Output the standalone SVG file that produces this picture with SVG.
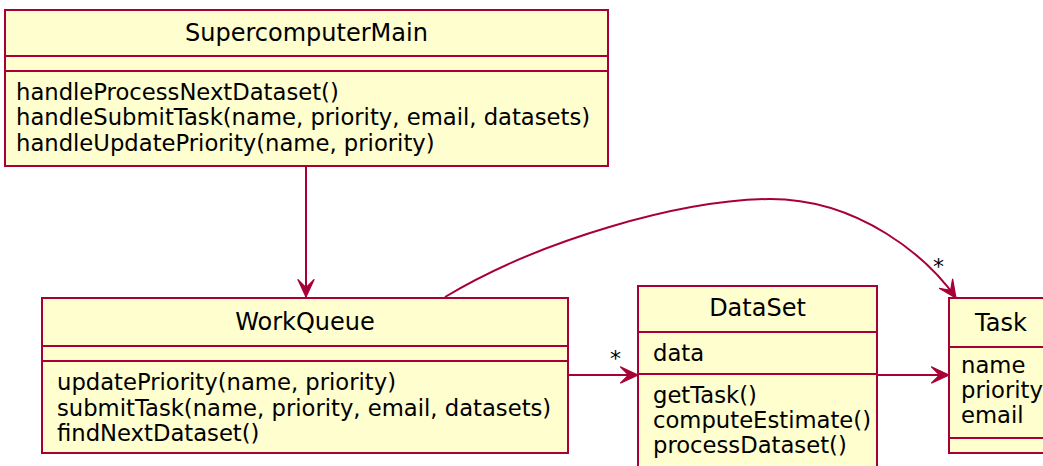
<svg xmlns="http://www.w3.org/2000/svg" width="1043" height="466" viewBox="0 0 1043 466">
<defs>
<style>
.box{fill:#FEFECE;stroke:#A80036;stroke-width:2}
.sep{stroke:#A80036;stroke-width:2}
.edge{fill:none;stroke:#A80036;stroke-width:2}
.title{font-family:"DejaVu Sans",sans-serif;font-size:24px;fill:#000;text-anchor:middle}
.mem{font-family:"DejaVu Sans",sans-serif;font-size:22.7px;fill:#000}
.mult{font-family:"DejaVu Sans",sans-serif;font-size:22px;fill:#000}
</style>
<marker id="arr" markerUnits="userSpaceOnUse" markerWidth="20" markerHeight="20" viewBox="-16 -8 17 16" refX="0" refY="0" orient="auto">
<path d="M0,0 L-15,-7 L-8,0 L-15,7 Z" fill="#A80036" stroke="#A80036" stroke-width="1"/>
</marker>
</defs>
<rect width="1043" height="466" fill="#fff"/>
<g id="connectors">
<path class="edge" d="M306,166 L306,297" marker-end="url(#arr)"/>
<path class="edge" d="M568,375 L638,375" marker-end="url(#arr)"/>
<text class="mult" x="610" y="366">*</text>
<path class="edge" d="M877,375 L949,375" marker-end="url(#arr)"/>
<path class="edge" d="M445,297 C540,240 680,200 770,199 C860,199 928,258 956,298" marker-end="url(#arr)"/>
<text class="mult" x="933" y="274">*</text>
</g>
<g id="SupercomputerMain">
<rect class="box" x="5" y="10" width="603" height="156"/>
<line class="sep" x1="5" y1="56" x2="608" y2="56"/>
<line class="sep" x1="5" y1="71" x2="608" y2="71"/>
<text class="title" x="306.5" y="41">SupercomputerMain</text>
<text class="mem" x="16" y="99.5">handleProcessNextDataset()</text>
<text class="mem" x="16" y="125">handleSubmitTask(name, priority, email, datasets)</text>
<text class="mem" x="16" y="150.5">handleUpdatePriority(name, priority)</text>
</g>
<g id="WorkQueue">
<rect class="box" x="42" y="298" width="526" height="155"/>
<line class="sep" x1="42" y1="346" x2="568" y2="346"/>
<line class="sep" x1="42" y1="361" x2="568" y2="361"/>
<text class="title" x="305" y="330">WorkQueue</text>
<text class="mem" x="57" y="390">updatePriority(name, priority)</text>
<text class="mem" x="57" y="415.5">submitTask(name, priority, email, datasets)</text>
<text class="mem" x="57" y="441">findNextDataset()</text>
</g>
<g id="DataSet">
<rect class="box" x="638" y="286" width="239" height="190"/>
<line class="sep" x1="638" y1="332" x2="877" y2="332"/>
<line class="sep" x1="638" y1="374" x2="877" y2="374"/>
<text class="title" x="757.5" y="316">DataSet</text>
<text class="mem" x="653" y="361">data</text>
<text class="mem" x="653" y="403">getTask()</text>
<text class="mem" x="653" y="428">computeEstimate()</text>
<text class="mem" x="653" y="453">processDataset()</text>
</g>
<g id="Task">
<rect class="box" x="949" y="298" width="104" height="155"/>
<line class="sep" x1="949" y1="347" x2="1053" y2="347"/>
<line class="sep" x1="949" y1="438" x2="1053" y2="438"/>
<text class="title" x="1001" y="331">Task</text>
<text class="mem" x="961" y="373">name</text>
<text class="mem" x="961" y="398">priority</text>
<text class="mem" x="961" y="423">email</text>
</g>
</svg>
